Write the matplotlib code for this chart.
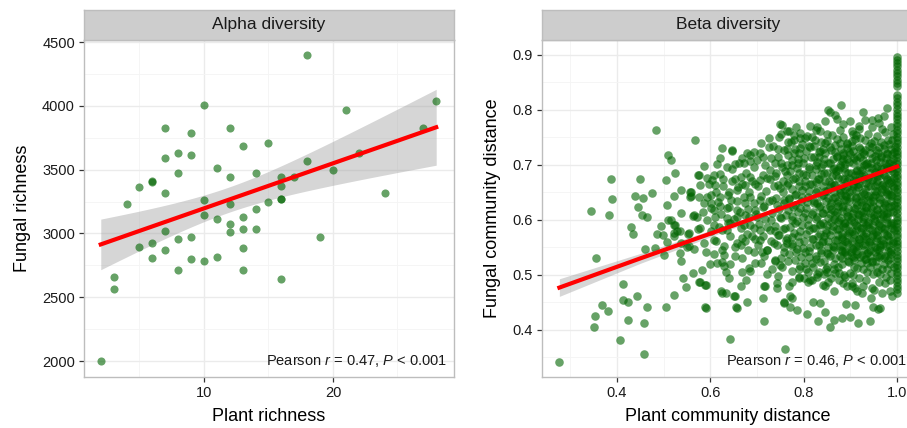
import numpy as np
import matplotlib
matplotlib.use("Agg")
import matplotlib.pyplot as plt
from matplotlib.ticker import MultipleLocator

plt.rcParams['font.family'] = ['Liberation Sans', 'DejaVu Sans']
plt.rcParams['mathtext.fontset'] = 'custom'
plt.rcParams['mathtext.rm'] = 'Liberation Sans'
plt.rcParams['mathtext.it'] = 'Liberation Sans:italic'

## ---------------- data ----------------
## Alpha diversity: plant richness vs fungal richness
alpha_plant = [2, 3, 3, 4, 5, 5, 6, 6, 6, 6,
               7, 7, 7, 7, 7, 8, 8, 8, 8, 9,
               9, 9, 9, 10, 10, 10, 10, 11, 11, 11,
               12, 12, 12, 12, 12, 13, 13, 13, 13, 13,
               14, 14, 14, 15, 15, 16, 16, 16, 16, 16,
               17, 18, 18, 19, 20, 21, 22, 24, 27, 28]
alpha_fungal = [2000, 2658, 2562, 3233, 3366, 2891, 3400, 3410, 2925, 2807,
                3828, 3593, 3319, 3019, 2870, 3633, 3471, 2958, 2711, 3784,
                3617, 2972, 2797, 4003, 3260, 3142, 2784, 3510, 3115, 2812,
                3826, 3440, 3231, 3076, 3013, 3685, 3129, 3032, 2888, 2711,
                3476, 3191, 3032, 3706, 3249, 3440, 3374, 3267, 3272, 2640,
                3440, 4400, 3570, 2974, 3497, 3969, 3628, 3314, 3824, 4036]

## Beta diversity: sparse points (left / lower part of the cloud)
beta_sparse = [
    (0.277, 0.342), (0.484, 0.763), (0.567, 0.745), (0.510, 0.718), (0.516, 0.709),
    (0.586, 0.698), (0.524, 0.685), (0.387, 0.675), (0.449, 0.675), (0.506, 0.673),
    (0.575, 0.681), (0.389, 0.638), (0.438, 0.644), (0.455, 0.639), (0.475, 0.649),
    (0.523, 0.644), (0.537, 0.655), (0.556, 0.651), (0.559, 0.644), (0.507, 0.628),
    (0.446, 0.624), (0.344, 0.616), (0.384, 0.609), (0.453, 0.609), (0.464, 0.605),
    (0.537, 0.612), (0.564, 0.608), (0.431, 0.587), (0.434, 0.575), (0.495, 0.589),
    (0.517, 0.599), (0.525, 0.590), (0.522, 0.577), (0.528, 0.580), (0.536, 0.580),
    (0.487, 0.575), (0.508, 0.559), (0.553, 0.575), (0.574, 0.583), (0.460, 0.548),
    (0.482, 0.549), (0.500, 0.536), (0.535, 0.539), (0.537, 0.525), (0.551, 0.550),
    (0.565, 0.547), (0.355, 0.530), (0.562, 0.503), (0.542, 0.494), (0.549, 0.478),
    (0.577, 0.487), (0.589, 0.482), (0.583, 0.509), (0.414, 0.483), (0.522, 0.464),
    (0.413, 0.455), (0.423, 0.450), (0.444, 0.462), (0.368, 0.445), (0.382, 0.435),
    (0.354, 0.425), (0.352, 0.405), (0.464, 0.441), (0.505, 0.441), (0.589, 0.441),
    (0.423, 0.418), (0.458, 0.412), (0.407, 0.381), (0.459, 0.357),
    (0.642, 0.384), (0.759, 0.365), (0.716, 0.416), (0.590, 0.439), (0.658, 0.440),
    (0.679, 0.451), (0.714, 0.458), (0.757, 0.451), (0.654, 0.462), (0.622, 0.471),
    (0.633, 0.468), (0.576, 0.488), (0.590, 0.482), (0.665, 0.480), (0.640, 0.494),
    (0.677, 0.491), (0.716, 0.479), (0.743, 0.485), (0.746, 0.498), (0.633, 0.506),
    (0.629, 0.516), (0.668, 0.506), (0.685, 0.507), (0.732, 0.510), (0.599, 0.519),
    (0.615, 0.521), (0.626, 0.524), (0.643, 0.520), (0.695, 0.521), (0.738, 0.525),
    (0.750, 0.518), (0.590, 0.542), (0.608, 0.538), (0.626, 0.545), (0.629, 0.536),
    (0.654, 0.535), (0.665, 0.555), (0.675, 0.561), (0.680, 0.545), (0.711, 0.542),
    (0.722, 0.545), (0.743, 0.555), (0.757, 0.542), (0.739, 0.527),
    (0.656, 0.442), (0.757, 0.449), (0.770, 0.461), (0.786, 0.436), (0.626, 0.467),
    (0.650, 0.461), (0.718, 0.479), (0.743, 0.476), (0.768, 0.480),
    (0.807, 0.429), (0.830, 0.417), (0.846, 0.433), (0.857, 0.406), (0.864, 0.419),
    (0.882, 0.422), (0.899, 0.423), (0.917, 0.413), (0.941, 0.417), (0.821, 0.451),
    (0.891, 0.447), (0.910, 0.445), (0.949, 0.442), (0.960, 0.438), (0.944, 0.458),
    (0.990, 0.462), (0.845, 0.479), (0.864, 0.471), (0.885, 0.485), (0.903, 0.479),
    (0.914, 0.470), (0.924, 0.467), (0.951, 0.473), (0.967, 0.467), (0.974, 0.485),
    (0.985, 0.470), (0.775, 0.458), (0.771, 0.442), (0.789, 0.494), (0.810, 0.488),
    (0.828, 0.497), (0.850, 0.506), (0.867, 0.503), (0.889, 0.497), (0.835, 0.449),
    (0.963, 0.439), (0.800, 0.494), (0.818, 0.491), (0.841, 0.482), (0.892, 0.480),
    (0.910, 0.476), (0.928, 0.479), (0.946, 0.476),
]

## Beta diversity: middle of the cloud (0.6 - 0.77) and upper fringe
beta_mid = [
    (0.626, 0.731), (0.647, 0.725), (0.620, 0.713), (0.679, 0.722), (0.707, 0.721),
    (0.714, 0.715), (0.725, 0.748), (0.725, 0.733), (0.746, 0.729), (0.754, 0.773),
    (0.752, 0.756), (0.764, 0.761), (0.766, 0.742), (0.764, 0.729), (0.636, 0.697),
    (0.654, 0.701), (0.672, 0.703), (0.686, 0.707), (0.700, 0.709), (0.729, 0.712),
    (0.739, 0.703), (0.574, 0.682), (0.594, 0.677), (0.608, 0.682), (0.611, 0.664),
    (0.628, 0.674), (0.579, 0.664), (0.597, 0.665), (0.558, 0.651), (0.556, 0.641),
    (0.576, 0.642), (0.601, 0.645), (0.620, 0.641), (0.640, 0.650), (0.647, 0.670),
    (0.665, 0.678), (0.659, 0.659), (0.675, 0.664), (0.686, 0.678), (0.695, 0.665),
    (0.707, 0.673), (0.722, 0.676), (0.739, 0.680), (0.736, 0.662), (0.750, 0.658),
    (0.764, 0.664), (0.761, 0.688), (0.754, 0.697), (0.586, 0.630), (0.601, 0.631),
    (0.585, 0.615), (0.608, 0.618), (0.620, 0.625), (0.636, 0.621), (0.645, 0.636),
    (0.658, 0.618), (0.675, 0.630), (0.686, 0.642), (0.695, 0.618), (0.707, 0.636),
    (0.716, 0.625), (0.732, 0.636), (0.743, 0.627), (0.757, 0.636), (0.768, 0.639),
    (0.572, 0.606), (0.594, 0.600), (0.611, 0.606), (0.636, 0.603), (0.658, 0.606),
    (0.675, 0.609), (0.700, 0.606), (0.729, 0.600), (0.750, 0.606), (0.510, 0.600),
    (0.522, 0.591), (0.565, 0.609), (0.498, 0.573), (0.522, 0.570), (0.554, 0.576),
    (0.579, 0.585), (0.601, 0.579), (0.618, 0.588), (0.636, 0.582), (0.643, 0.594),
    (0.665, 0.585), (0.686, 0.591), (0.707, 0.582), (0.722, 0.588), (0.739, 0.579),
    (0.761, 0.585), (0.537, 0.558), (0.554, 0.552), (0.586, 0.558), (0.608, 0.564),
    (0.629, 0.552), (0.658, 0.558), (0.668, 0.567), (0.690, 0.570), (0.707, 0.564),
    (0.736, 0.558), (0.746, 0.573), (0.764, 0.558), (0.880, 0.809), (0.857, 0.797),
    (0.867, 0.791), (0.871, 0.783), (0.928, 0.797), (0.978, 0.804), (0.899, 0.779),
    (0.846, 0.779), (0.828, 0.768), (0.784, 0.768), (0.878, 0.764), (0.931, 0.782),
    (0.946, 0.782), (0.960, 0.785), (0.971, 0.788), (0.919, 0.765), (0.852, 0.799),
    (0.750, 0.775), (0.768, 0.761), (0.748, 0.751), (0.779, 0.745), (0.793, 0.749),
    (0.807, 0.752), (0.825, 0.745), (0.814, 0.733), (0.793, 0.730), (0.686, 0.718),
    (0.647, 0.727),
]

## Beta diversity: dense block towards plant distance 1 (first pass)
beta_dense = [
    (0.792, 0.758), (0.826, 0.764), (0.861, 0.755), (0.903, 0.762), (0.938, 0.757), (0.968, 0.766),
    (0.772, 0.742), (0.803, 0.748), (0.838, 0.741), (0.872, 0.747), (0.893, 0.739), (0.921, 0.749),
    (0.951, 0.743), (0.981, 0.746), (0.781, 0.729), (0.812, 0.734), (0.834, 0.726), (0.857, 0.732),
    (0.879, 0.728), (0.904, 0.735), (0.932, 0.727), (0.962, 0.733), (0.986, 0.729), (0.766, 0.718),
    (0.791, 0.722), (0.822, 0.715), (0.846, 0.721), (0.871, 0.717), (0.896, 0.724), (0.914, 0.716),
    (0.941, 0.721), (0.966, 0.714), (0.989, 0.720), (0.776, 0.708), (0.801, 0.712), (0.829, 0.705),
    (0.862, 0.711), (0.881, 0.707), (0.908, 0.713), (0.936, 0.704), (0.954, 0.709), (0.977, 0.712),
    (0.764, 0.699), (0.787, 0.703), (0.811, 0.696), (0.842, 0.701), (0.866, 0.694), (0.889, 0.702),
    (0.921, 0.697), (0.944, 0.703), (0.972, 0.695), (0.991, 0.700), (0.771, 0.689), (0.799, 0.684),
    (0.826, 0.692), (0.851, 0.686), (0.874, 0.691), (0.902, 0.685), (0.924, 0.690), (0.952, 0.687),
    (0.979, 0.693), (0.782, 0.677), (0.806, 0.681), (0.833, 0.675), (0.861, 0.680), (0.886, 0.674),
    (0.909, 0.682), (0.937, 0.676), (0.961, 0.679), (0.984, 0.673), (0.767, 0.668), (0.789, 0.671),
    (0.818, 0.665), (0.846, 0.670), (0.868, 0.664), (0.893, 0.671), (0.919, 0.666), (0.946, 0.672),
    (0.969, 0.665), (0.988, 0.669), (0.776, 0.657), (0.802, 0.661), (0.829, 0.655), (0.857, 0.660),
    (0.878, 0.654), (0.906, 0.662), (0.931, 0.656), (0.953, 0.661), (0.981, 0.655), (0.784, 0.648),
    (0.812, 0.652), (0.841, 0.645), (0.864, 0.651), (0.891, 0.644), (0.913, 0.652), (0.942, 0.646),
    (0.966, 0.650), (0.989, 0.644), (0.769, 0.638), (0.796, 0.641), (0.823, 0.635), (0.852, 0.640),
    (0.874, 0.634), (0.899, 0.642), (0.926, 0.636), (0.949, 0.641), (0.976, 0.635), (0.781, 0.627),
    (0.808, 0.632), (0.836, 0.625), (0.859, 0.631), (0.884, 0.626), (0.911, 0.633), (0.934, 0.624),
    (0.962, 0.630), (0.986, 0.626), (0.766, 0.618), (0.792, 0.621), (0.819, 0.614), (0.847, 0.620),
    (0.871, 0.615), (0.894, 0.622), (0.922, 0.616), (0.944, 0.621), (0.971, 0.614), (0.774, 0.607),
    (0.803, 0.612), (0.828, 0.605), (0.856, 0.611), (0.879, 0.604), (0.906, 0.612), (0.929, 0.606),
    (0.957, 0.611), (0.979, 0.605), (0.786, 0.598), (0.809, 0.601), (0.842, 0.595), (0.864, 0.601),
    (0.888, 0.594), (0.916, 0.602), (0.938, 0.596), (0.964, 0.601), (0.991, 0.594), (0.771, 0.588),
    (0.797, 0.591), (0.824, 0.585), (0.851, 0.590), (0.876, 0.584), (0.898, 0.592), (0.927, 0.586),
    (0.948, 0.591), (0.974, 0.585), (0.779, 0.577), (0.811, 0.582), (0.834, 0.575), (0.861, 0.581),
    (0.883, 0.574), (0.912, 0.582), (0.933, 0.576), (0.959, 0.581), (0.984, 0.575), (0.764, 0.568),
    (0.788, 0.571), (0.821, 0.565), (0.844, 0.570), (0.872, 0.564), (0.893, 0.572), (0.918, 0.566),
    (0.946, 0.571), (0.969, 0.564), (0.776, 0.557), (0.801, 0.562), (0.832, 0.555), (0.853, 0.561),
    (0.881, 0.554), (0.904, 0.562), (0.932, 0.556), (0.954, 0.561), (0.982, 0.555), (0.786, 0.548),
    (0.813, 0.551), (0.838, 0.545), (0.866, 0.550), (0.889, 0.544), (0.917, 0.552), (0.941, 0.546),
    (0.963, 0.551), (0.988, 0.545), (0.769, 0.538), (0.802, 0.541), (0.826, 0.535), (0.849, 0.540),
    (0.877, 0.534), (0.901, 0.542), (0.924, 0.536), (0.952, 0.541), (0.974, 0.535), (0.781, 0.527),
    (0.812, 0.532), (0.843, 0.525), (0.868, 0.531), (0.896, 0.524), (0.921, 0.532), (0.947, 0.526),
    (0.971, 0.531), (0.792, 0.517), (0.818, 0.521), (0.851, 0.514), (0.882, 0.520), (0.908, 0.515),
    (0.936, 0.521), (0.958, 0.514), (0.984, 0.519), (0.774, 0.508), (0.806, 0.511), (0.833, 0.505),
    (0.864, 0.510), (0.899, 0.504), (0.928, 0.511), (0.956, 0.505), (0.979, 0.510), (0.791, 0.497),
    (0.829, 0.501), (0.858, 0.494), (0.887, 0.500), (0.918, 0.495), (0.949, 0.501), (0.976, 0.496),
]

## Beta diversity: dense block (second pass, points hidden between the first)
beta_dense2 = [
    (0.813, 0.771), (0.884, 0.774), (0.947, 0.769),
    (0.779, 0.755), (0.817, 0.751), (0.851, 0.756), (0.884, 0.750), (0.912, 0.754), (0.957, 0.752), (0.992, 0.757),
    (0.708, 0.739), (0.735, 0.734), (0.796, 0.738), (0.823, 0.735), (0.846, 0.740), (0.868, 0.736),
    (0.892, 0.738), (0.918, 0.733), (0.944, 0.739), (0.973, 0.736),
    (0.694, 0.724), (0.758, 0.727), (0.779, 0.722), (0.806, 0.726), (0.832, 0.723), (0.859, 0.727),
    (0.884, 0.722), (0.905, 0.726), (0.927, 0.723), (0.955, 0.727), (0.978, 0.722),
    (0.668, 0.712), (0.745, 0.715), (0.787, 0.711), (0.816, 0.714), (0.843, 0.710), (0.871, 0.715),
    (0.893, 0.711), (0.921, 0.714), (0.947, 0.712), (0.966, 0.716), (0.992, 0.710),
    (0.614, 0.701), (0.662, 0.704), (0.718, 0.700), (0.752, 0.703), (0.776, 0.699), (0.799, 0.704),
    (0.827, 0.700), (0.853, 0.703), (0.878, 0.699), (0.905, 0.704), (0.933, 0.701), (0.958, 0.698), (0.983, 0.703),
    (0.647, 0.693), (0.693, 0.696), (0.727, 0.691), (0.785, 0.695), (0.812, 0.692), (0.838, 0.696),
    (0.863, 0.692), (0.887, 0.695), (0.914, 0.691), (0.938, 0.696), (0.966, 0.692), (0.988, 0.695),
    (0.621, 0.683), (0.676, 0.686), (0.712, 0.682), (0.741, 0.685), (0.764, 0.681), (0.791, 0.686),
    (0.817, 0.682), (0.844, 0.685), (0.869, 0.681), (0.895, 0.686), (0.918, 0.683), (0.943, 0.685),
    (0.971, 0.682), (0.994, 0.686),
    (0.604, 0.672), (0.652, 0.675), (0.689, 0.671), (0.727, 0.674), (0.756, 0.670), (0.778, 0.675),
    (0.803, 0.671), (0.831, 0.674), (0.855, 0.670), (0.881, 0.675), (0.907, 0.672), (0.929, 0.674),
    (0.957, 0.671), (0.979, 0.675),
    (0.627, 0.662), (0.668, 0.665), (0.703, 0.661), (0.744, 0.664), (0.789, 0.661), (0.814, 0.665),
    (0.841, 0.662), (0.866, 0.664), (0.892, 0.660), (0.917, 0.665), (0.941, 0.662), (0.967, 0.664), (0.992, 0.661),
    (0.612, 0.651), (0.657, 0.654), (0.683, 0.650), (0.719, 0.653), (0.755, 0.650), (0.797, 0.654),
    (0.826, 0.651), (0.851, 0.653), (0.877, 0.649), (0.903, 0.654), (0.928, 0.651), (0.953, 0.653), (0.977, 0.650),
    (0.593, 0.642), (0.637, 0.645), (0.672, 0.641), (0.708, 0.644), (0.741, 0.640), (0.782, 0.645),
    (0.809, 0.642), (0.837, 0.644), (0.863, 0.640), (0.888, 0.645), (0.912, 0.642), (0.938, 0.644),
    (0.962, 0.641), (0.987, 0.645),
    (0.616, 0.632), (0.657, 0.635), (0.694, 0.631), (0.725, 0.634), (0.758, 0.630), (0.794, 0.635),
    (0.822, 0.631), (0.848, 0.634), (0.872, 0.630), (0.897, 0.635), (0.922, 0.632), (0.948, 0.634), (0.973, 0.631),
    (0.601, 0.621), (0.641, 0.624), (0.681, 0.620), (0.712, 0.623), (0.748, 0.619), (0.778, 0.624),
    (0.806, 0.621), (0.833, 0.623), (0.859, 0.619), (0.883, 0.624), (0.908, 0.621), (0.933, 0.623),
    (0.957, 0.620), (0.982, 0.624),
    (0.623, 0.611), (0.664, 0.614), (0.697, 0.610), (0.733, 0.613), (0.762, 0.609), (0.788, 0.614),
    (0.817, 0.611), (0.842, 0.613), (0.867, 0.609), (0.893, 0.614), (0.917, 0.611), (0.943, 0.613),
    (0.968, 0.610), (0.992, 0.614),
    (0.651, 0.602), (0.684, 0.605), (0.718, 0.601), (0.752, 0.604), (0.775, 0.600), (0.799, 0.605),
    (0.826, 0.602), (0.853, 0.604), (0.876, 0.600), (0.903, 0.605), (0.927, 0.602), (0.951, 0.604), (0.977, 0.601),
    (0.609, 0.591), (0.637, 0.594), (0.672, 0.590), (0.704, 0.593), (0.738, 0.589), (0.782, 0.594),
    (0.809, 0.591), (0.836, 0.593), (0.862, 0.589), (0.887, 0.594), (0.911, 0.591), (0.937, 0.593),
    (0.961, 0.590), (0.987, 0.594),
    (0.625, 0.582), (0.694, 0.585), (0.727, 0.581), (0.756, 0.584), (0.793, 0.580), (0.821, 0.585),
    (0.847, 0.582), (0.872, 0.584), (0.897, 0.580), (0.922, 0.585), (0.946, 0.582), (0.972, 0.584), (0.994, 0.581),
    (0.642, 0.571), (0.678, 0.574), (0.713, 0.570), (0.748, 0.573), (0.776, 0.569), (0.804, 0.574),
    (0.831, 0.571), (0.857, 0.573), (0.881, 0.569), (0.907, 0.574), (0.931, 0.571), (0.957, 0.573), (0.980, 0.570),
    (0.612, 0.562), (0.696, 0.565), (0.729, 0.561), (0.763, 0.564), (0.789, 0.560), (0.817, 0.565),
    (0.842, 0.562), (0.867, 0.564), (0.893, 0.560), (0.918, 0.565), (0.943, 0.562), (0.966, 0.564), (0.991, 0.561),
    (0.654, 0.551), (0.702, 0.554), (0.757, 0.550), (0.776, 0.553), (0.799, 0.549), (0.827, 0.554),
    (0.853, 0.551), (0.877, 0.553), (0.903, 0.549), (0.928, 0.554), (0.952, 0.551), (0.976, 0.553),
    (0.693, 0.542), (0.722, 0.545), (0.784, 0.541), (0.812, 0.544), (0.838, 0.540), (0.862, 0.545),
    (0.888, 0.542), (0.912, 0.544), (0.936, 0.540), (0.962, 0.545), (0.985, 0.542),
    (0.668, 0.531), (0.715, 0.534), (0.752, 0.530), (0.795, 0.533), (0.827, 0.529), (0.856, 0.534),
    (0.883, 0.531), (0.908, 0.533), (0.933, 0.529), (0.958, 0.534), (0.984, 0.531),
    (0.708, 0.522), (0.766, 0.525), (0.803, 0.521), (0.836, 0.524), (0.866, 0.520), (0.894, 0.525),
    (0.922, 0.522), (0.946, 0.524), (0.972, 0.520),
    (0.683, 0.512), (0.754, 0.515), (0.789, 0.511), (0.821, 0.514), (0.847, 0.510), (0.874, 0.515),
    (0.914, 0.512), (0.942, 0.514), (0.968, 0.510), (0.993, 0.515),
    (0.722, 0.502), (0.809, 0.505), (0.843, 0.501), (0.876, 0.504), (0.906, 0.500), (0.936, 0.505),
    (0.963, 0.502), (0.988, 0.504),
    (0.776, 0.488), (0.814, 0.491), (0.853, 0.487), (0.876, 0.490), (0.903, 0.486), (0.934, 0.491),
    (0.961, 0.488), (0.985, 0.490),
]

## Beta diversity: the darkest part of the cloud, next to plant distance 1
beta_dense3 = [
    (0.906, 0.757), (0.975, 0.759), (0.903, 0.744), (0.932, 0.746), (0.965, 0.742), (0.990, 0.745),
    (0.892, 0.731), (0.946, 0.733), (0.972, 0.729), (0.996, 0.732), (0.885, 0.718), (0.929, 0.720),
    (0.953, 0.716), (0.978, 0.719), (0.896, 0.706), (0.912, 0.708), (0.963, 0.705), (0.985, 0.707),
    (0.877, 0.697), (0.930, 0.699), (0.955, 0.695), (0.978, 0.698), (0.889, 0.687), (0.912, 0.689),
    (0.962, 0.686), (0.990, 0.688), (0.874, 0.677), (0.924, 0.679), (0.949, 0.675), (0.976, 0.678),
    (0.906, 0.666), (0.934, 0.668), (0.958, 0.665), (0.983, 0.667), (0.889, 0.657), (0.917, 0.659),
    (0.968, 0.656), (0.993, 0.658), (0.879, 0.646), (0.929, 0.648), (0.953, 0.645), (0.978, 0.647),
    (0.891, 0.637), (0.913, 0.639), (0.938, 0.636), (0.963, 0.638), (0.988, 0.635), (0.874, 0.626),
    (0.925, 0.628), (0.948, 0.625), (0.975, 0.627), (0.883, 0.617), (0.909, 0.619), (0.934, 0.616),
    (0.958, 0.618), (0.985, 0.615), (0.895, 0.607), (0.918, 0.609), (0.944, 0.606), (0.969, 0.608),
    (0.874, 0.597), (0.902, 0.599), (0.927, 0.596), (0.953, 0.598), (0.978, 0.595), (0.888, 0.587),
    (0.914, 0.589), (0.939, 0.586), (0.965, 0.588), (0.990, 0.585), (0.897, 0.576), (0.923, 0.578),
    (0.948, 0.575), (0.972, 0.577), (0.882, 0.566), (0.907, 0.568), (0.934, 0.565), (0.958, 0.567),
    (0.983, 0.564), (0.894, 0.556), (0.919, 0.558), (0.945, 0.555), (0.969, 0.557), (0.879, 0.546),
    (0.906, 0.548), (0.930, 0.545), (0.957, 0.547), (0.981, 0.544), (0.892, 0.536), (0.915, 0.538),
    (0.943, 0.535), (0.966, 0.537), (0.907, 0.527), (0.931, 0.529), (0.955, 0.526), (0.980, 0.528),
]

## Beta diversity: more overlapping points in the darkest area
beta_dense4 = [
    (0.836, 0.762), (0.918, 0.771), (0.962, 0.776), (0.987, 0.768), (0.851, 0.744), (0.878, 0.739),
    (0.909, 0.747), (0.939, 0.735), (0.983, 0.738), (0.842, 0.729), (0.867, 0.724), (0.899, 0.719),
    (0.921, 0.728), (0.959, 0.721), (0.994, 0.724), (0.833, 0.714), (0.856, 0.703), (0.884, 0.711),
    (0.927, 0.709), (0.946, 0.694), (0.974, 0.703), (0.837, 0.684), (0.869, 0.688), (0.898, 0.677),
    (0.928, 0.684), (0.956, 0.679), (0.993, 0.677), (0.826, 0.669), (0.859, 0.666), (0.881, 0.662),
    (0.913, 0.672), (0.938, 0.661), (0.974, 0.661), (0.846, 0.652), (0.868, 0.642), (0.897, 0.651),
    (0.922, 0.644), (0.958, 0.652), (0.983, 0.648), (0.829, 0.631), (0.857, 0.626), (0.887, 0.636),
    (0.914, 0.627), (0.943, 0.632), (0.969, 0.622), (0.994, 0.628), (0.839, 0.612), (0.866, 0.617),
    (0.892, 0.608), (0.926, 0.614), (0.951, 0.609), (0.978, 0.613), (0.834, 0.591), (0.858, 0.597),
    (0.885, 0.589), (0.908, 0.596), (0.934, 0.591), (0.962, 0.595), (0.986, 0.590), (0.847, 0.577),
    (0.874, 0.572), (0.903, 0.579), (0.928, 0.571), (0.955, 0.578), (0.978, 0.572), (0.839, 0.559),
    (0.862, 0.553), (0.889, 0.561), (0.913, 0.553), (0.939, 0.559), (0.964, 0.554), (0.992, 0.558),
    (0.853, 0.538), (0.881, 0.543), (0.904, 0.535), (0.937, 0.542), (0.962, 0.532), (0.987, 0.538),
]

## Beta diversity: pairs with no shared plant species (plant distance = 1)
beta_col_fungal = [0.843, 0.849, 0.855, 0.861, 0.867, 0.873, 0.879, 0.885, 0.891, 0.897,
                   0.468, 0.474, 0.480, 0.487, 0.493, 0.499, 0.506, 0.512, 0.518, 0.525,
                   0.531, 0.537, 0.543, 0.550, 0.556, 0.562, 0.569, 0.575, 0.581, 0.588,
                   0.594, 0.600, 0.606, 0.613, 0.619, 0.625, 0.632, 0.638, 0.644, 0.651,
                   0.657, 0.663, 0.669, 0.676, 0.682, 0.688, 0.695, 0.701, 0.707, 0.714,
                   0.720, 0.726, 0.732, 0.739, 0.745, 0.751, 0.758, 0.764, 0.770, 0.777,
                   0.783, 0.789, 0.795, 0.802, 0.808, 0.814, 0.821, 0.827]

beta_pairs = beta_sparse + beta_mid + beta_dense + beta_dense2 + beta_dense3 + beta_dense4
beta_plant = [p[0] for p in beta_pairs] + [1.0] * len(beta_col_fungal)
beta_fungal = [p[1] for p in beta_pairs] + beta_col_fungal

## fitted line and its confidence band for beta
beta_fit_plant = [0.277, 0.45, 0.65, 0.85, 1.0]
beta_fit_fungal = [0.477, 0.530, 0.590, 0.651, 0.697]
beta_fit_lo = [0.461, 0.521, 0.585, 0.647, 0.692]
beta_fit_hi = [0.493, 0.539, 0.595, 0.655, 0.702]

pearson_text = ["Pearson $r$ = 0.47, $P$ < 0.001", "Pearson $r$ = 0.46, $P$ < 0.001"]
strip_titles = ["Alpha diversity", "Beta diversity"]


def fit_with_band(x, y, xs, t=2.0):
    """linear fit + 95% confidence band"""
    x = np.asarray(x, float)
    y = np.asarray(y, float)
    b, a = np.polyfit(x, y, 1)
    n = len(x)
    resid = y - (a + b * x)
    s = np.sqrt(np.sum(resid ** 2) / (n - 2))
    se = s * np.sqrt(1.0 / n + (xs - x.mean()) ** 2 / np.sum((x - x.mean()) ** 2))
    yhat = a + b * xs
    return yhat, yhat - t * se, yhat + t * se


def style_panel(ax, title):
    ax.set_facecolor("white")
    ax.grid(which="major", color="#EBEBEB", linewidth=1.0)
    ax.grid(which="minor", color="#F4F4F4", linewidth=0.6)
    ax.set_axisbelow(True)
    for sp in ax.spines.values():
        sp.set_color("#BDBDBD")
        sp.set_linewidth(1.0)
    ax.tick_params(which="major", length=3.5, width=0.9, color="#333333",
                   labelsize=10.5, labelcolor="#1A1A1A", pad=3)
    ax.tick_params(which="minor", length=0)
    # strip on top like a ggplot facet
    pos = ax.get_position()
    sax = fig.add_axes([pos.x0, pos.y1, pos.width, 30 / 428])
    sax.set_facecolor("#CDCDCD")
    sax.set_xticks([])
    sax.set_yticks([])
    for sp in sax.spines.values():
        sp.set_color("#BDBDBD")
        sp.set_linewidth(1.0)
    sax.text(0.5, 0.5, title, ha="center", va="center", fontsize=12.5, color="#1A1A1A",
             transform=sax.transAxes)


fig = plt.figure(figsize=(9.07, 4.28), dpi=100)
green = "#006400"

## ---------------- alpha ----------------
ax1 = fig.add_axes([84 / 907, 51 / 428, 370 / 907, 337 / 428])
xs = np.linspace(min(alpha_plant), max(alpha_plant), 100)
yhat, lo, hi = fit_with_band(alpha_plant, alpha_fungal, xs)
ax1.fill_between(xs, lo, hi, color="#999999", alpha=0.4, linewidth=0, zorder=2)
ax1.scatter(alpha_plant, alpha_fungal, s=34, color=green, alpha=0.6, linewidths=0, zorder=3)
ax1.plot(xs, yhat, color="red", linewidth=3.0, zorder=4)
ax1.set_xlim(0.7, 29.38)
ax1.set_ylim(1875, 4516)
ax1.xaxis.set_major_locator(MultipleLocator(10))
ax1.xaxis.set_minor_locator(MultipleLocator(5))
ax1.yaxis.set_major_locator(MultipleLocator(500))
ax1.yaxis.set_minor_locator(MultipleLocator(250))
ax1.set_xlabel("Plant richness", fontsize=13, labelpad=6)
ax1.set_ylabel("Fungal richness", fontsize=13, labelpad=8)
ax1.text(0.981, 0.047, pearson_text[0], transform=ax1.transAxes, ha="right", va="center",
         fontsize=10.5, color="#1A1A1A", zorder=5)
style_panel(ax1, strip_titles[0])

## ---------------- beta ----------------
ax2 = fig.add_axes([542 / 907, 51 / 428, 372 / 907, 337 / 428])
ax2.fill_between(beta_fit_plant, beta_fit_lo, beta_fit_hi, color="#999999", alpha=0.4,
                 linewidth=0, zorder=2)
ax2.scatter(beta_plant, beta_fungal, s=38, color=green, alpha=0.6, linewidths=0, zorder=3)
ax2.plot(beta_fit_plant, beta_fit_fungal, color="red", linewidth=3.0, zorder=4)
ax2.set_xlim(0.2398, 1.0362)
ax2.set_ylim(0.3145, 0.927)
ax2.xaxis.set_major_locator(MultipleLocator(0.2))
ax2.xaxis.set_minor_locator(MultipleLocator(0.1))
ax2.yaxis.set_major_locator(MultipleLocator(0.1))
ax2.yaxis.set_minor_locator(MultipleLocator(0.05))
ax2.set_xlabel("Plant community distance", fontsize=13, labelpad=6)
ax2.set_ylabel("Fungal community distance", fontsize=13, labelpad=8)
ax2.text(0.981, 0.047, pearson_text[1], transform=ax2.transAxes, ha="right", va="center",
         fontsize=10.5, color="#1A1A1A", zorder=5)
style_panel(ax2, strip_titles[1])

fig.savefig("out.png", dpi=100)
